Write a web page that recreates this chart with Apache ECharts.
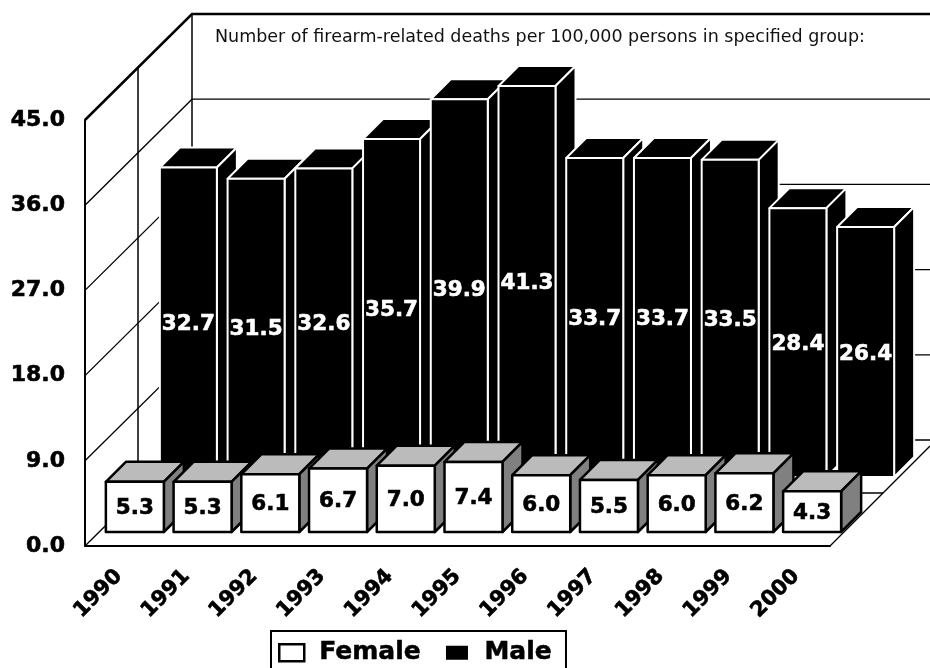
<!DOCTYPE html>
<html><head><meta charset="utf-8">
<style>html,body{margin:0;padding:0;background:#fff}#c{width:930px;height:668px}</style>
<script src="https://cdn.jsdelivr.net/npm/echarts@6/dist/echarts.min.js"></script>
</head><body><div id="c"></div>
<script>
const years = ['1990','1991','1992','1993','1994','1995','1996','1997','1998','1999','2000'];
const female = [5.3,5.3,6.1,6.7,7.0,7.4,6.0,5.5,6.0,6.2,4.3];
const male = [32.7,31.5,32.6,35.7,39.9,41.3,33.7,33.7,33.5,28.4,26.4];
const yTicks = [0,9,18,27,36,45];
const note = 'Number of firearm-related deaths per 100,000 persons in specified group:';
const FONT = '"DejaVu Sans", Verdana, sans-serif';
const WALLX = 107, WALLY = 106, MID = 53;

function box(api, shift, width, depth, faces, labelColor, fontSize, labelDy){
  const cat = api.value(0), val = api.value(1);
  const top0 = api.coord([cat, val]), base0 = api.coord([cat, 0]);
  const cx = base0[0] + shift.x, by = base0[1] - shift.y, ty = top0[1] - shift.y;
  const l = cx - width/2, r = cx + width/2;
  const st = {stroke: faces.stroke, lineWidth: faces.lw, lineJoin:'round'};
  return {type:'group', children:[
    {type:'polygon', shape:{points:[[l,ty],[l+depth,ty-depth],[r+depth,ty-depth],[r,ty]]}, style:{fill:faces.top, ...st}},
    {type:'polygon', shape:{points:[[r,ty],[r+depth,ty-depth],[r+depth,by-depth],[r,by]]}, style:{fill:faces.side, ...st}},
    {type:'rect', shape:{x:l,y:ty,width:width,height:by-ty}, style:{fill:faces.front, ...st}},
    {type:'text', style:{x:cx,y:(ty+by)/2+labelDy,text:val.toFixed(1),fill:labelColor,stroke:labelColor,lineWidth:0.6,font:'bold '+fontSize+'px '+FONT,align:'center',verticalAlign:'middle'}}
  ]};
}
const line = (pts, w) => ({type:'polyline', shape:{points:pts}, style:{stroke:'#000', lineWidth:w, fill:null}});

const option = {
  animation:false,
  backgroundColor:'#fff',
  title:{text:note,left:210,top:23,textStyle:{fontFamily:FONT,fontSize:17.5,fontWeight:'normal',color:'#111'}},
  legend:{
    left:271, top:631, orient:'horizontal',
    backgroundColor:'#fff', borderColor:'#000', borderWidth:2, padding:[9,14,6,7],
    itemWidth:25, itemHeight:17, itemGap:22,
    textStyle:{fontFamily:FONT,fontSize:25,fontWeight:'bold',color:'#000',padding:[0,0,0,10],textBorderColor:'#000',textBorderWidth:0.5},
    data:[
      {name:'Female',icon:'rect',itemStyle:{color:'#fff',borderColor:'#000',borderWidth:2.5}},
      {name:'Male',icon:'rect',itemStyle:{color:'#000',borderColor:'#fff',borderWidth:3}}
    ]
  },
  grid:{left:85,right:100,top:120,bottom:122},
  xAxis:{type:'category',data:years,boundaryGap:true,
    axisLine:{lineStyle:{color:'#000',width:2}},axisTick:{show:false},
    axisLabel:{rotate:45,interval:0,margin:27,fontFamily:FONT,fontSize:21,fontWeight:'bold',color:'#000',textBorderColor:'#000',textBorderWidth:0.6},
    splitLine:{show:false}},
  yAxis:{type:'value',min:0,max:45,interval:9,
    axisLine:{show:true,lineStyle:{color:'#000',width:2}},axisTick:{show:false},
    axisLabel:{margin:20,formatter:v=>v.toFixed(1),fontFamily:FONT,fontSize:22,fontWeight:'bold',color:'#000',textBorderColor:'#000',textBorderWidth:0.6},
    splitLine:{show:false}},
  series:[
    {type:'custom',name:'walls',silent:true,z:1,data:yTicks.map(v=>[0,v]),
      encode:{x:0,y:1},
      renderItem:(p,api)=>{
        const v=api.value(1), y=api.coord([0,v])[1], cs=p.coordSys, x0=cs.x, W=api.getWidth();
        const kids=[];
        const top=v===yTicks[yTicks.length-1];
        kids.push(line([[x0,y],[x0+WALLX,y-WALLY],[W,y-WALLY]], top?2.5:1.3));
        if(v===0){
          const xr=cs.x+cs.width;
          kids.push(line([[xr,y],[W,y-(W-xr)]],1.3));
          kids.push(line([[x0+MID,y-MID],[xr+MID,y-MID]],1.3));
          const ty=api.coord([0,yTicks[yTicks.length-1]])[1];
          kids.push(line([[x0+WALLX,ty-WALLY],[x0+WALLX,y-WALLY]],1.5));
          kids.push(line([[x0+MID,ty-MID],[x0+MID,y-MID]],1.5));
        }
        return {type:'group',children:kids};
      }},
    {type:'custom',name:'Male',z:2,data:male.map((v,i)=>[i,v]),encode:{x:0,y:1},
      itemStyle:{color:'#000'},
      renderItem:(p,api)=>box(api,{x:69.5,y:69},57,20,{top:'#000',side:'#000',front:'#000',stroke:'#fff',lw:2},'#fff',21.5,2)},
    {type:'custom',name:'Female',z:3,data:female.map((v,i)=>[i,v]),encode:{x:0,y:1},
      itemStyle:{color:'#fff'},
      renderItem:(p,api)=>box(api,{x:16,y:14},58,20,{top:'#bbb',side:'#808080',front:'#fff',stroke:'#000',lw:2.5},'#000',21.5,1.5)}
  ]
};
const chart = echarts.init(document.getElementById('c'),null,{renderer:'canvas'});
chart.setOption(option);
</script></body></html>
